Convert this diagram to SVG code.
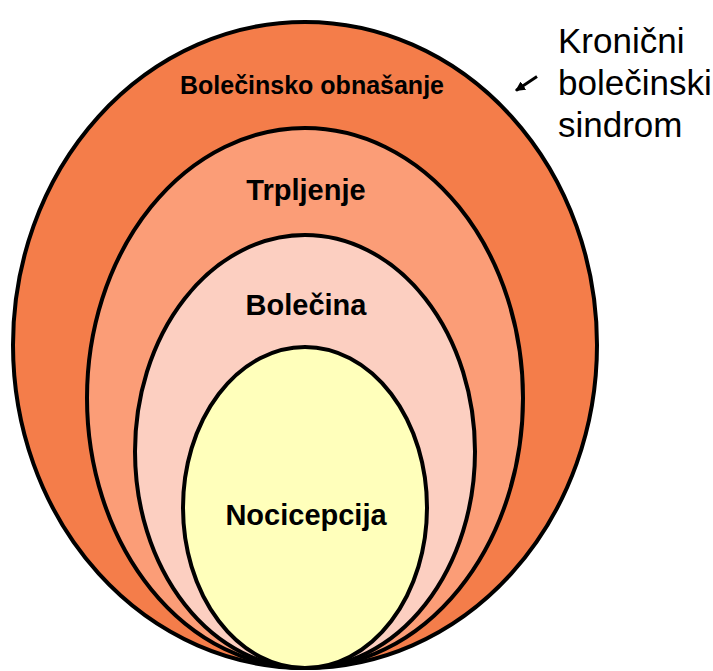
<svg xmlns="http://www.w3.org/2000/svg" width="713" height="671" viewBox="0 0 713 671">
<defs>
<style>
.ring{stroke:#000;stroke-width:4}
.lbl{font-family:"Liberation Sans",Arial,sans-serif;font-weight:bold;fill:#000;text-anchor:middle}
.side{font-family:"Liberation Sans",Arial,sans-serif;font-size:35px;fill:#000}
</style>
<marker id="ah" viewBox="0 0 10 10" refX="9" refY="5" markerWidth="3.3" markerHeight="3.3" orient="auto">
<path d="M0,0 L10,5 L0,10 z" fill="#000"/>
</marker>
</defs>
<rect width="713" height="671" fill="#fff"/>
<g id="behaviour">
<ellipse class="ring" cx="305" cy="345" rx="292" ry="323" fill="#F47D4A"/>
<text class="lbl" x="312" y="94" font-size="25">Bolečinsko obnašanje</text>
</g>
<g id="suffering">
<ellipse class="ring" cx="305" cy="398" rx="218" ry="270" fill="#FB9D77"/>
<text class="lbl" x="306" y="200" font-size="29">Trpljenje</text>
</g>
<g id="pain">
<ellipse class="ring" cx="305" cy="451.5" rx="170" ry="216.5" fill="#FCCFC1"/>
<text class="lbl" x="306" y="315" font-size="29">Bolečina</text>
</g>
<g id="nociception">
<ellipse class="ring" cx="305" cy="507.5" rx="122" ry="160.5" fill="#FFFFBB"/>
<text class="lbl" x="306" y="525" font-size="29">Nocicepcija</text>
</g>
<g id="syndrome">
<text class="side" x="558" y="53">Kronični</text>
<text class="side" x="558" y="95">bolečinski</text>
<text class="side" x="558" y="137">sindrom</text>
</g>
<g id="connectors">
<line x1="537" y1="76.5" x2="516" y2="90.5" stroke="#000" stroke-width="3" marker-end="url(#ah)"/>
</g>
</svg>
